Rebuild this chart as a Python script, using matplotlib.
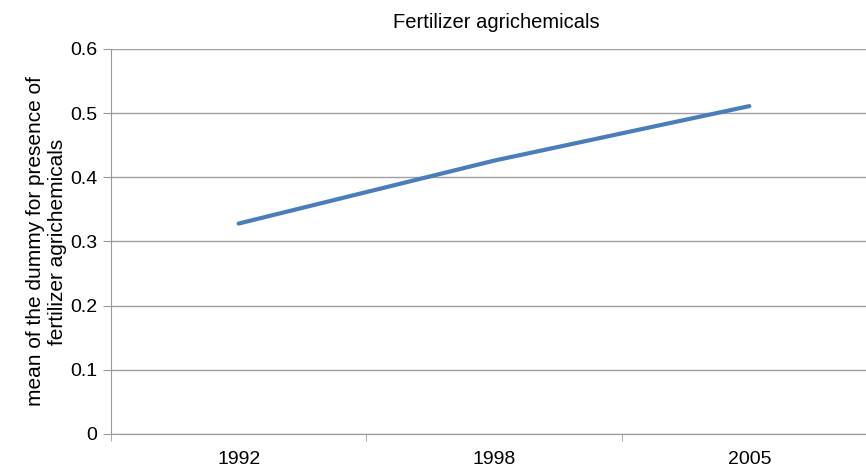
import numpy as np
import matplotlib
matplotlib.use('Agg')
import matplotlib.pyplot as plt

plt.rcParams['font.family'] = ['Liberation Sans', 'DejaVu Sans']

years = ['1992', '1998', '2005']
values = [0.328, 0.426, 0.511]

fig = plt.figure(figsize=(8.66, 4.66), dpi=100)
ax = fig.add_axes([111/866, 1 - 434/466, 766/866, 385/466])

x = np.arange(len(years))
ax.plot(x, values, color='#4a7ebb', linewidth=3, solid_capstyle='round')

ax.set_xlim(-0.5, len(years) - 0.5)
ax.set_ylim(0, 0.6)
ax.set_yticks(np.arange(0, 0.61, 0.1))
ax.set_yticklabels(['0', '0.1', '0.2', '0.3', '0.4', '0.5', '0.6'], fontsize=14)
ax.set_xticks(x)
ax.set_xticklabels(years, fontsize=14)
ax.set_xticks(np.arange(-0.5, len(years), 1), minor=True)
ax.tick_params(axis='x', which='major', length=0, pad=12)
ax.tick_params(axis='x', which='minor', length=5, color='#999999')
ax.tick_params(axis='y', length=6, color='#999999', pad=4)

ax.grid(axis='y', color='#a0a0a0', linewidth=1)
ax.set_axisbelow(True)
for s in ['top', 'right']:
    ax.spines[s].set_visible(False)
for s in ['left', 'bottom']:
    ax.spines[s].set_color('#999999')

ax.set_ylabel('mean of the dummy for presence of\nfertilizer agrichemicals', fontsize=15, labelpad=2)
fig.text(496/866, 1 - 22/466, 'Fertilizer agrichemicals', ha='center', va='center', fontsize=14.5)

fig.savefig('out.png', dpi=100)
